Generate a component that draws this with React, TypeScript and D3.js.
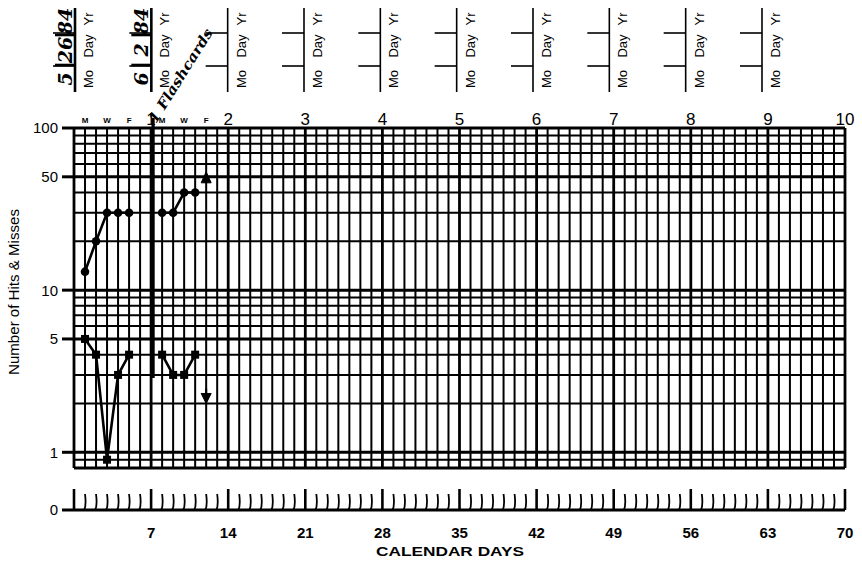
import React, {useRef, useEffect} from 'react';
import * as d3 from 'd3';

// data
const days = [1, 2, 3, 4, 5, 8, 9, 10, 11];
const phases = [0, 0, 0, 0, 0, 1, 1, 1, 1];
const hits = [13, 20, 30, 30, 30, 30, 30, 40, 40];
const misses = [5, 4, 0.9, 3, 4, 4, 3, 3, 4];
const aimDay = 12;
const hitsAim = 50;
const missesAim = 2;
const phaseDay = 7;
const phaseLabel = '1 Flashcards';

const yTickLabels = [100, 50, 10, 5, 1];
const weekLabels = ['1', '2', '3', '4', '5', '6', '7', '8', '9', '10'];
const dayLetterDays = [1, 3, 5, 8, 10, 12];
const dayLetters = ['M', 'W', 'F', 'M', 'W', 'F'];
const calendarTicks = [7, 14, 21, 28, 35, 42, 49, 56, 63, 70];
const dateEntries = [['5', '26', '84'], ['6', '2', '84']];
const headerCount = 10;

const W = 862;
const H = 561;

const Chart: React.FC = () => {
    const ref = useRef<SVGSVGElement | null>(null);

    useEffect(() => {
        if (!ref.current) return;
        const svg = d3.select(ref.current);
        const x = d3.scaleLinear().domain([0, 70]).range([74, 845]);
        const y = d3.scaleLog().domain([0.8, 100]).range([468, 128]);
        const headerX = d3.scaleLinear().domain([0, headerCount - 1]).range([75, 762]);
        const font = 'Liberation Sans, Arial, Helvetica, sans-serif';
        const hand = 'DejaVu Serif, serif';

        svg.append('rect').attr('width', W).attr('height', H).attr('fill', '#fff');

        // date headers
        const hdr = svg.selectAll('g.hdr')
            .data(d3.range(headerCount))
            .join('g')
            .attr('class', 'hdr')
            .attr('transform', d => `translate(${headerX(d)},0)`);
        hdr.append('line').attr('x1', 0).attr('x2', 0).attr('y1', 8).attr('y2', 92)
            .attr('stroke', '#000').attr('stroke-width', d => d < dateEntries.length ? 2.6 : 1.6);
        hdr.selectAll('line.t').data([33, 66]).join('line').attr('class', 't')
            .attr('x1', -22).attr('x2', 0).attr('y1', d => d).attr('y2', d => d)
            .attr('stroke', '#000').attr('stroke-width', 1.6);
        hdr.selectAll('text').data([['Mo', 79], ['Day', 46], ['Yr', 19]]).join('text')
            .attr('transform', d => `translate(18,${d[1]}) rotate(-90)`)
            .attr('text-anchor', 'middle')
            .attr('font-family', font).attr('font-size', 13)
            .text(d => d[0] as string);

        // handwritten dates
        dateEntries.forEach((entry, i) => {
            const hx = headerX(i) - 3;
            const g = svg.append('g');
            g.selectAll('text').data(entry).join('text')
                .attr('transform', (d, j) => `translate(${hx},${[79, 50, 21][j]}) rotate(-90)`)
                .attr('text-anchor', 'middle')
                .attr('font-family', hand).attr('font-style', 'italic').attr('font-weight', 'bold')
                .attr('font-size', 19)
                .text(d => d);
            g.selectAll('line').data([35, 65]).join('line')
                .attr('x1', hx - 17).attr('x2', headerX(i)).attr('y1', d => d).attr('y2', d => d)
                .attr('stroke', '#000').attr('stroke-width', 2.6);
        });

        // week numbers and day letters on top
        svg.selectAll('text.wk').data(weekLabels).join('text').attr('class', 'wk')
            .attr('x', (d, i) => x((i + 1) * 7)).attr('y', 125)
            .attr('text-anchor', 'middle')
            .attr('font-family', font).attr('font-size', 17)
            .text(d => d);
        svg.selectAll('text.dl').data(dayLetters).join('text').attr('class', 'dl')
            .attr('x', (d, i) => x(dayLetterDays[i])).attr('y', 123)
            .attr('text-anchor', 'middle')
            .attr('font-family', font).attr('font-size', 8).attr('font-weight', 'bold')
            .text(d => d);

        // grid
        const hVals = y.ticks();
        const major = [0.8, 1, 5, 10, 50, 100];
        svg.selectAll('line.h').data(hVals).join('line').attr('class', 'h')
            .attr('x1', x(0)).attr('x2', x(70))
            .attr('y1', d => y(d)).attr('y2', d => y(d))
            .attr('stroke', '#000')
            .attr('stroke-width', d => major.some(m => Math.abs(m - d) < 1e-9) ? 3 : 2);
        svg.selectAll('line.v').data(d3.range(0, 71)).join('line').attr('class', 'v')
            .attr('x1', d => x(d)).attr('x2', d => x(d))
            .attr('y1', y(100)).attr('y2', y(0.8))
            .attr('stroke', '#000')
            .attr('stroke-width', d => d % 7 === 0 ? 2.8 : 2);

        // y axis
        svg.selectAll('line.yt').data(yTickLabels).join('line').attr('class', 'yt')
            .attr('x1', 62).attr('x2', x(0))
            .attr('y1', d => y(d)).attr('y2', d => y(d))
            .attr('stroke', '#000').attr('stroke-width', 3);
        svg.selectAll('text.yl').data(yTickLabels).join('text').attr('class', 'yl')
            .attr('x', 58).attr('y', d => y(d)).attr('dy', '0.36em')
            .attr('text-anchor', 'end')
            .attr('font-family', font).attr('font-size', 15)
            .text(d => d);
        svg.append('text')
            .attr('transform', `translate(19,${(y(100) + y(0.8)) / 2 - 6}) rotate(-90)`)
            .attr('text-anchor', 'middle')
            .attr('font-family', font).attr('font-size', 14)
            .attr('textLength', 166).attr('lengthAdjust', 'spacingAndGlyphs')
            .text('Number of Hits & Misses');

        // calendar day strip
        const base = 510;
        svg.append('line').attr('x1', 62).attr('x2', x(70)).attr('y1', base).attr('y2', base)
            .attr('stroke', '#000').attr('stroke-width', 3);
        svg.selectAll('path.ct').data(d3.range(0, 71)).join('path').attr('class', 'ct')
            .attr('d', d => {
                const top = d % 7 === 0 ? base - 21 : base - 16;
                const cx = x(d);
                return d % 7 === 0 ? `M${cx},${base}V${top}` : `M${cx - 1},${base}Q${cx + 1.5},${base - 4} ${cx},${top}`;
            })
            .attr('fill', 'none').attr('stroke', '#000')
            .attr('stroke-width', d => d % 7 === 0 ? 2.6 : 1.8);
        svg.append('text').attr('x', 58).attr('y', base).attr('dy', '0.36em')
            .attr('text-anchor', 'end').attr('font-family', font).attr('font-size', 15)
            .text('0');
        svg.selectAll('text.cl').data(calendarTicks).join('text').attr('class', 'cl')
            .attr('x', d => x(d)).attr('y', 538)
            .attr('text-anchor', 'middle')
            .attr('font-family', font).attr('font-size', 15).attr('font-weight', 'bold')
            .text(d => d);
        svg.append('text').attr('x', 450).attr('y', 556)
            .attr('text-anchor', 'middle')
            .attr('font-family', font).attr('font-size', 12).attr('font-weight', 'bold')
            .attr('textLength', 148).attr('lengthAdjust', 'spacingAndGlyphs')
            .text('CALENDAR DAYS');

        // phase change line
        svg.append('line')
            .attr('x1', x(phaseDay) + 2).attr('x2', x(phaseDay) + 2)
            .attr('y1', 118).attr('y2', 378)
            .attr('stroke', '#000').attr('stroke-width', 3.2);
        svg.append('text')
            .attr('transform', `translate(${x(phaseDay) + 5},124) rotate(-58)`)
            .attr('font-family', hand).attr('font-style', 'italic').attr('font-weight', 'bold')
            .attr('font-size', 14)
            .attr('textLength', 108).attr('lengthAdjust', 'spacingAndGlyphs')
            .text(phaseLabel);

        // series
        const rows = days.map((d, i) => ({day: d, phase: phases[i], hit: hits[i], miss: misses[i]}));
        const groups = d3.groups(rows, r => r.phase);
        const hitLine = d3.line<any>().x(r => x(r.day)).y(r => y(r.hit));
        const missLine = d3.line<any>().x(r => x(r.day)).y(r => y(r.miss));
        groups.forEach(([, rs]) => {
            svg.append('path').attr('d', hitLine(rs)).attr('fill', 'none')
                .attr('stroke', '#000').attr('stroke-width', 2.6);
            svg.append('path').attr('d', missLine(rs)).attr('fill', 'none')
                .attr('stroke', '#000').attr('stroke-width', 2.6);
        });
        svg.selectAll('circle.hit').data(rows).join('circle').attr('class', 'hit')
            .attr('cx', r => x(r.day)).attr('cy', r => y(r.hit)).attr('r', 4.3)
            .attr('fill', '#000');
        svg.selectAll('rect.miss').data(rows).join('rect').attr('class', 'miss')
            .attr('x', r => x(r.day) - 4).attr('y', r => y(r.miss) - 4)
            .attr('width', 8).attr('height', 8)
            .attr('fill', '#000');

        // aim arrows
        const ax = x(aimDay);
        const hy = y(hitsAim);
        svg.append('path')
            .attr('d', `M${ax},${hy - 5}L${ax - 5},${hy + 6}L${ax + 5},${hy + 6}Z`)
            .attr('fill', '#000').attr('stroke', '#000').attr('stroke-width', 1);
        const my = y(missesAim);
        svg.append('path')
            .attr('d', `M${ax},${my}L${ax - 5},${my - 10}L${ax + 5},${my - 10}Z`)
            .attr('fill', '#000').attr('stroke', '#000').attr('stroke-width', 1);
        svg.append('line').attr('x1', ax).attr('x2', ax).attr('y1', my - 15).attr('y2', my - 8)
            .attr('stroke', '#000').attr('stroke-width', 2);

        return () => {
            // eslint-disable-next-line react-hooks/exhaustive-deps
            d3.select(ref.current).selectAll('*').remove();
        };
    }, []);

    return <svg ref={ref} width={W} height={H} style={{position: 'absolute', left: 0, top: 0}}></svg>;
};

export default function App() {
    return <Chart />;
}
